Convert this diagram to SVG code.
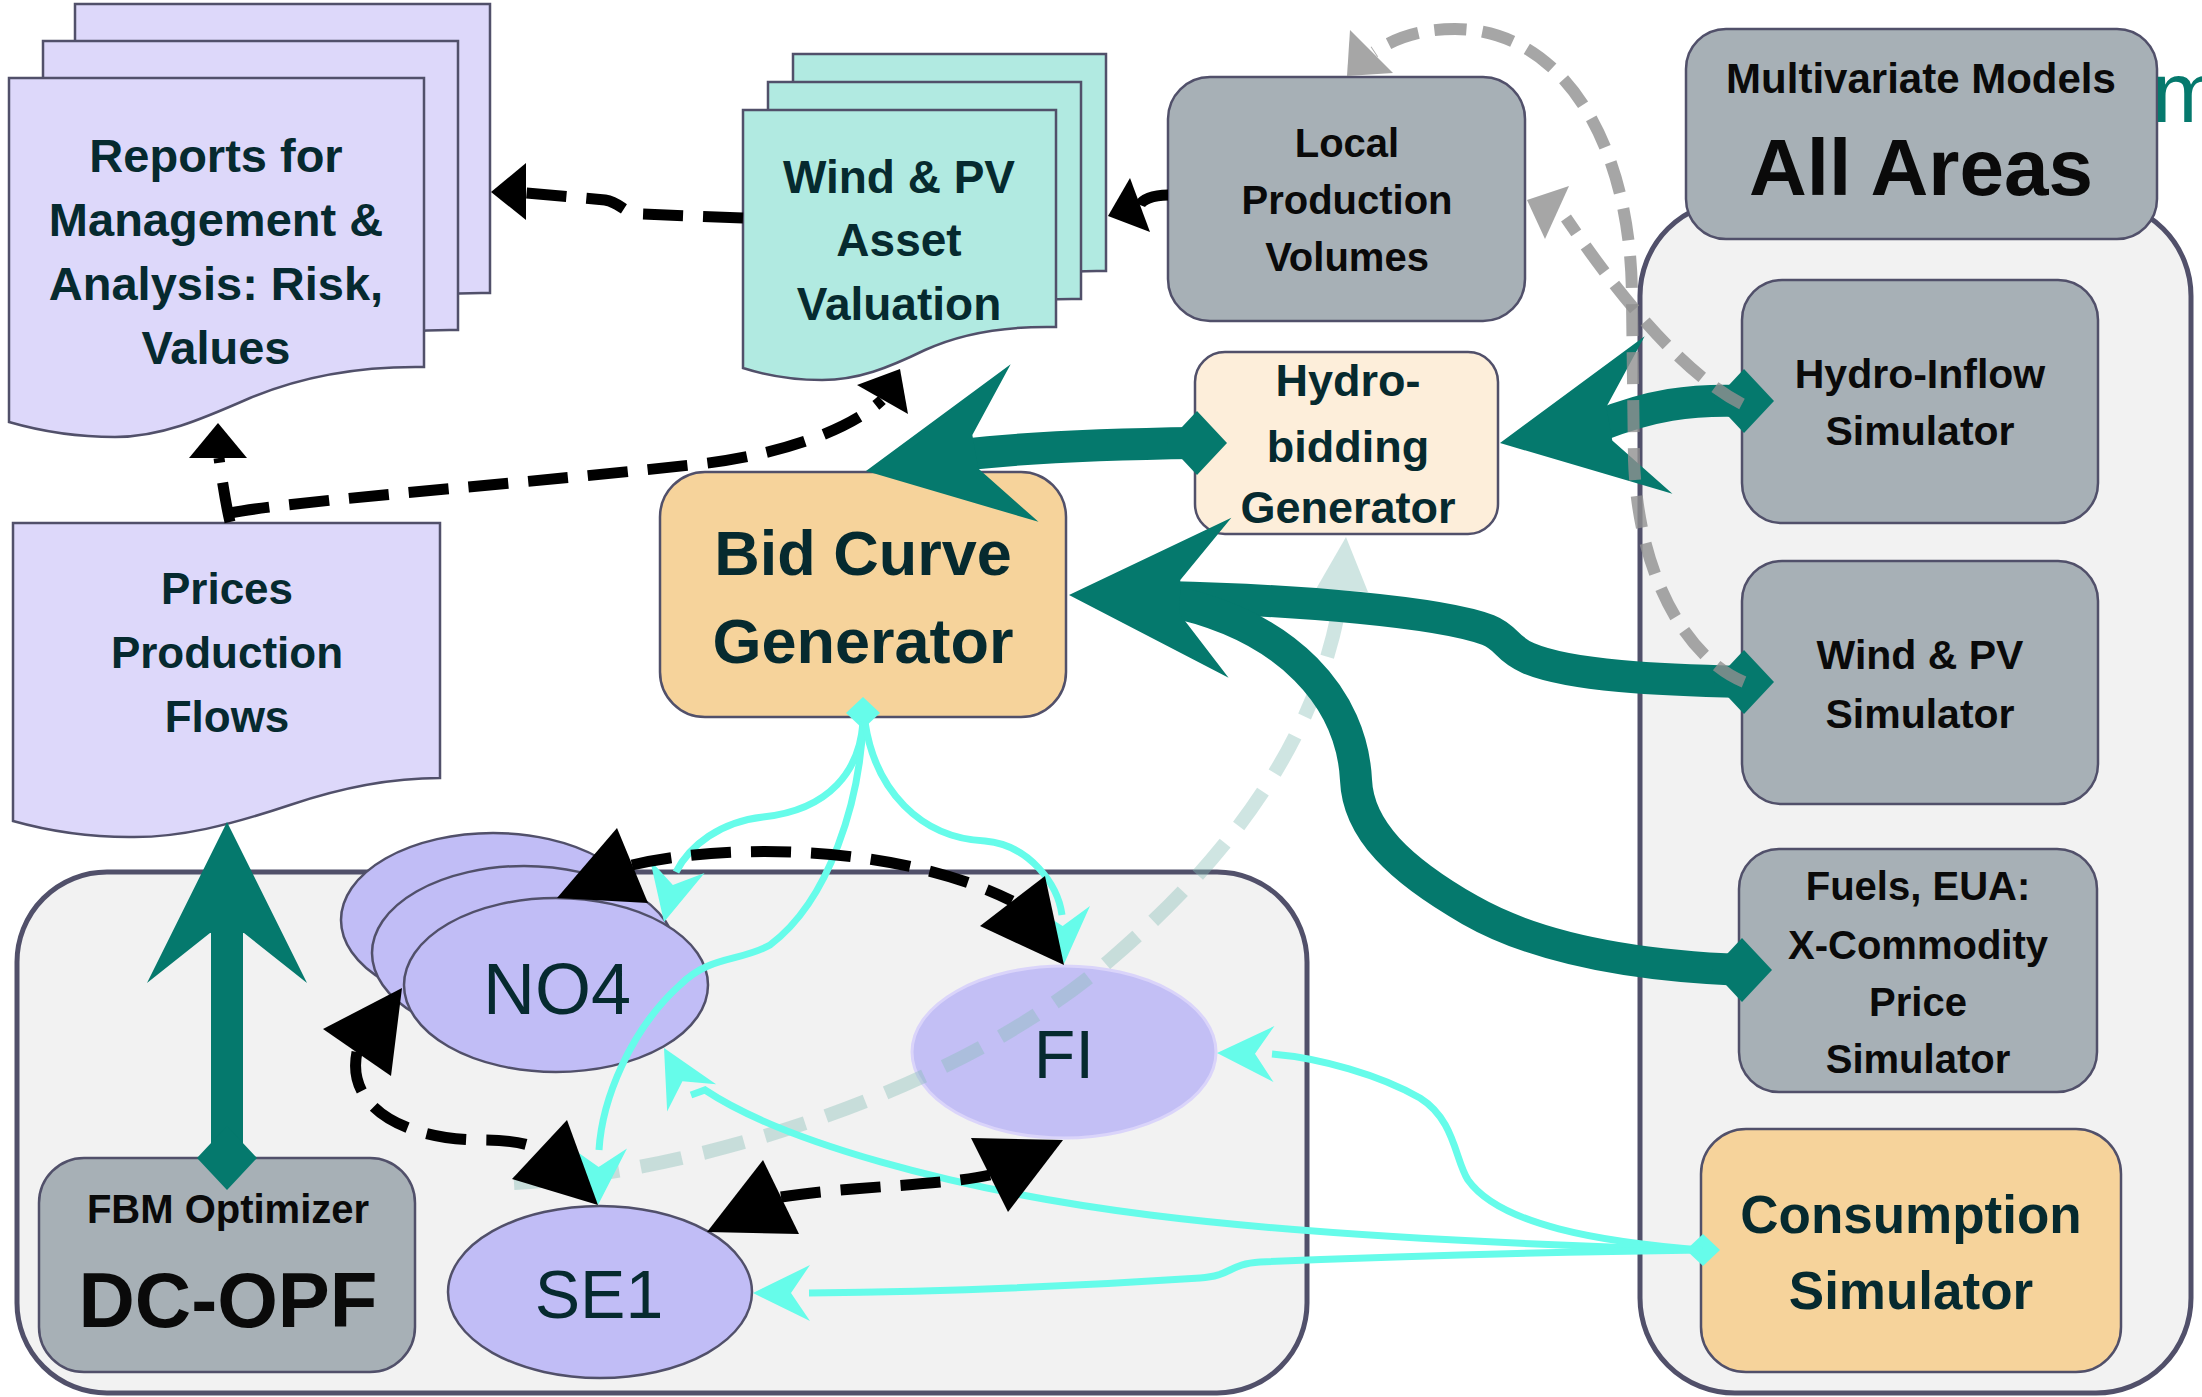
<svg xmlns="http://www.w3.org/2000/svg" xmlns:xlink="http://www.w3.org/1999/xlink" width="2202" height="1397" viewBox="0 0 2202 1397">
<style>
text{font-family:"Liberation Sans",Arial,sans-serif;text-anchor:middle;}
.b{font-weight:bold;}
.dk{fill:#062a2f;}
.bk{fill:#0a0a0a;}
.st{stroke:#51506a;stroke-width:2.5;}
.doc{fill:#ddd8fa;}
.asset{fill:#b1eae1;}
.gray{fill:#a7b0b6;}
.org{fill:#f6d39b;}
.cream{fill:#fdeeda;}
.ell{fill:#c1bdf6;}
.cont{fill:#f2f2f2;stroke:#51506a;stroke-width:5;}
.teal{fill:none;stroke:#05796d;stroke-width:32;}
.tealf{fill:#05796d;}
.grayd{fill:none;stroke:#909090;stroke-opacity:0.8;stroke-width:12;stroke-dasharray:32 16;}
.grayf{fill:#909090;fill-opacity:0.8;}
.faint{fill:none;stroke:#87beb6;stroke-opacity:0.4;stroke-width:14;stroke-dasharray:42 22;}
.faintf{fill:#87beb6;fill-opacity:0.4;}
.cy{fill:none;stroke:#66fcea;stroke-width:7;}
.cyf{fill:#66fcea;}
.bd{fill:none;stroke:#000;stroke-width:11;stroke-dasharray:40 20;}
.bs{fill:none;stroke:#000;stroke-width:11;}
.bf{fill:#000;}
</style>
<defs>
<path id="th" d="M0,0 L-161,-80 L-111,-17 L-111,17 L-161,80 Z"/>
<path id="td" d="M0,-32 L30,0 L0,32 L-30,0 Z"/>
<path id="ch" d="M0,0 L-57,-28 L-38,0 L-57,28 Z"/>
<path id="cd" d="M0,-16 L17,0 L0,16 L-17,0 Z"/>
<path id="repdoc" d="M9,78 H424 V367 C360,366 300,377 250,398 C200,420 160,437 115,437 C75,437 40,431 9,422 Z"/>
<path id="assetdoc" d="M743,110 H1056 V327 C1008,326 962,333 925,350 C888,368 858,380 822,380 C792,380 765,375 743,368 Z"/>
<ellipse id="no4e" cx="556" cy="985" rx="152" ry="87"/>
</defs>

<g id="containers">
<rect id="multivariate-container" class="cont" x="1640" y="201" width="551" height="1192" rx="95"/>
<rect id="fbm-container" class="cont" x="17" y="872" width="1290" height="521" rx="90"/>
</g>

<g id="reports">
<use xlink:href="#repdoc" class="doc st" transform="translate(66,-74)"/>
<use xlink:href="#repdoc" class="doc st" transform="translate(34,-37)"/>
<use xlink:href="#repdoc" class="doc st"/>
<text class="b dk" font-size="47"><tspan x="216" y="172">Reports for</tspan><tspan x="216" y="236">Management &amp;</tspan><tspan x="216" y="300">Analysis: Risk,</tspan><tspan x="216" y="364">Values</tspan></text>
</g>

<g id="asset-valuation">
<use xlink:href="#assetdoc" class="asset st" transform="translate(50,-56)"/>
<use xlink:href="#assetdoc" class="asset st" transform="translate(25,-28)"/>
<use xlink:href="#assetdoc" class="asset st"/>
<text class="b dk" font-size="46"><tspan x="899" y="193">Wind &amp; PV</tspan><tspan x="899" y="256">Asset</tspan><tspan x="899" y="320">Valuation</tspan></text>
</g>

<g id="local-production">
<rect class="gray st" x="1168" y="77" width="357" height="244" rx="42"/>
<text class="b bk" font-size="40"><tspan x="1347" y="157">Local</tspan><tspan x="1347" y="214">Production</tspan><tspan x="1347" y="271">Volumes</tspan></text>
</g>

<g id="hydro-bidding">
<rect class="cream st" x="1195" y="352" width="303" height="182" rx="30"/>
<text class="b dk" font-size="45"><tspan x="1348" y="396">Hydro-</tspan><tspan x="1348" y="462">bidding</tspan><tspan x="1348" y="523">Generator</tspan></text>
</g>

<g id="bid-curve">
<rect class="org st" x="660" y="472" width="406" height="245" rx="45"/>
<text class="b dk" font-size="63"><tspan x="863" y="575">Bid Curve</tspan><tspan x="863" y="663">Generator</tspan></text>
</g>

<g id="prices">
<path class="doc st" d="M13,523 H440 V778 C390,778 340,788 290,805 C230,825 180,838 129,837 C85,837 45,830 13,821 Z"/>
<text class="b dk" font-size="44"><tspan x="227" y="604">Prices</tspan><tspan x="227" y="668">Production</tspan><tspan x="227" y="732">Flows</tspan></text>
</g>

<g id="multivariate">
<rect class="gray st" x="1686" y="29" width="471" height="210" rx="40"/>
<text class="b bk" font-size="42" x="1921" y="93">Multivariate Models</text>
<text class="b bk" font-size="80" x="1921" y="195">All Areas</text>
</g>

<g id="hydro-inflow">
<rect class="gray st" x="1742" y="280" width="356" height="243" rx="40"/>
<text class="b bk" font-size="41"><tspan x="1920" y="388">Hydro-Inflow</tspan><tspan x="1920" y="445">Simulator</tspan></text>
</g>

<g id="wind-pv-sim">
<rect class="gray st" x="1742" y="561" width="356" height="243" rx="40"/>
<text class="b bk" font-size="41"><tspan x="1920" y="669">Wind &amp; PV</tspan><tspan x="1920" y="728">Simulator</tspan></text>
</g>

<g id="fuels">
<rect class="gray st" x="1739" y="849" width="358" height="243" rx="40"/>
<text class="b bk" font-size="40"><tspan x="1918" y="900">Fuels, EUA:</tspan><tspan x="1918" y="959">X-Commodity</tspan><tspan x="1918" y="1016">Price</tspan><tspan x="1918" y="1073">Simulator</tspan></text>
</g>

<g id="consumption">
<rect class="org st" x="1701" y="1129" width="420" height="243" rx="45"/>
<text class="b dk" font-size="53"><tspan x="1911" y="1233">Consumption</tspan><tspan x="1911" y="1309">Simulator</tspan></text>
</g>

<g id="fbm">
<rect class="gray st" x="39" y="1158" width="376" height="214" rx="45"/>
<text class="b bk" font-size="40" x="228" y="1223">FBM Optimizer</text>
<text class="b bk" font-size="78" x="228" y="1327">DC-OPF</text>
</g>

<g id="no4">
<use xlink:href="#no4e" class="ell st" transform="translate(-63,-65)"/>
<use xlink:href="#no4e" class="ell st" transform="translate(-32,-32)"/>
<use xlink:href="#no4e" class="ell st"/>
<text class="dk" font-size="72" x="557" y="1014">NO4</text>
</g>

<g id="se1">
<ellipse class="ell st" cx="600" cy="1292" rx="152" ry="86"/>
<text class="dk" font-size="68" x="599" y="1318">SE1</text>
</g>

<g id="fi">
<ellipse class="ell" cx="1064" cy="1052" rx="152" ry="86" stroke="#d9d3fb" stroke-width="3" opacity="0.95"/>
<text class="dk" font-size="68" x="1064" y="1078">FI</text>
</g>

<g id="logo-fragment">
<text font-size="86" fill="#05796d" x="2152" y="122" style="text-anchor:start">m</text>
</g>

<g id="connectors">
<path class="faint" d="M514,1183 C700,1172 960,1090 1110,960 C1250,840 1322,720 1342,592"/>
<polygon class="faintf" points="1346,537 1316,589 1368,592"/>

<path class="teal" d="M1197,443 C1110,444 1030,447 960,455"/>
<use xlink:href="#th" class="tealf" transform="translate(866,471) rotate(170)"/>
<use xlink:href="#td" class="tealf" transform="translate(1197,443)"/>

<path class="teal" d="M1744,401 C1690,399 1650,405 1598,426"/>
<use xlink:href="#th" class="tealf" transform="translate(1500,443) rotate(170)"/>
<use xlink:href="#td" class="tealf" transform="translate(1744,401)"/>

<path class="teal" d="M1744,682 C1660,680 1570,676 1528,658 C1505,648 1508,638 1488,630 C1440,612 1300,600 1165,597"/>
<path class="teal" d="M1742,970 C1640,966 1540,950 1470,910 C1400,870 1358,830 1356,780 C1352,700 1290,625 1165,600"/>
<use xlink:href="#th" class="tealf" transform="translate(1069,595) rotate(181)"/>
<use xlink:href="#td" class="tealf" transform="translate(1744,682)"/>
<use xlink:href="#td" class="tealf" transform="translate(1742,970)"/>

<path class="teal" d="M227,1158 L227,920"/>
<use xlink:href="#th" class="tealf" transform="translate(227,822) rotate(-90)"/>
<use xlink:href="#td" class="tealf" transform="translate(227,1158)"/>

<path class="grayd" d="M1742,404 C1680,372 1615,290 1566,218"/>
<polygon class="grayf" points="1527,200 1569,186 1545,239"/>
<path class="grayd" d="M1744,682 C1690,660 1638,580 1634,460 L1632,300 C1632,140 1560,29 1455,29 C1420,29 1395,38 1374,52"/>
<polygon class="grayf" points="1347,76 1350,30 1393,73"/>

<use xlink:href="#cd" class="cyf" transform="translate(863,713)"/>
<path class="cy" d="M863,722 C860,770 830,810 763,817 C720,822 690,845 676,872"/>
<use xlink:href="#ch" class="cyf" transform="translate(664,922) rotate(103.5)"/>
<path class="cy" d="M863,722 C860,800 830,900 770,945 C740,962 710,955 680,985 C630,1030 602,1100 599,1150"/>
<use xlink:href="#ch" class="cyf" transform="translate(598,1205) rotate(91)"/>
<path class="cy" d="M865,722 C875,790 920,838 985,841 C1030,845 1058,885 1062,915"/>
<use xlink:href="#ch" class="cyf" transform="translate(1064,964) rotate(88)"/>

<use xlink:href="#cd" class="cyf" transform="translate(1703,1250)"/>
<path class="cy" d="M1702,1250 C1600,1242 1500,1225 1468,1180 C1455,1160 1455,1120 1420,1098 C1380,1075 1320,1058 1272,1054"/>
<use xlink:href="#ch" class="cyf" transform="translate(1217,1053) rotate(181)"/>
<path class="cy" d="M1702,1250 C1500,1244 1300,1234 1150,1215 C950,1190 780,1140 705,1090 L691,1095"/>
<use xlink:href="#ch" class="cyf" transform="translate(664,1048) rotate(241)"/>
<path class="cy" d="M1702,1250 C1550,1252 1400,1256 1260,1262 C1228,1264 1232,1276 1200,1278 C1050,1288 900,1292 809,1293"/>
<use xlink:href="#ch" class="cyf" transform="translate(753,1293) rotate(180)"/>

<path class="bd" d="M743,218 L640,214 C622,213 622,203 605,200 L526,193"/>
<polygon class="bf" points="491,192 526,163 526,220"/>
<path class="bd" d="M230,522 C226,505 222,480 219,458"/>
<polygon class="bf" points="218,423 189,458 247,458"/>
<path class="bd" d="M230,513 C300,500 500,486 700,464 C780,455 850,430 882,400"/>
<polygon class="bf" points="900,369 857,385 908,414"/>
<path class="bs" d="M1168,195 C1152,195 1142,200 1140,205"/>
<polygon class="bf" points="1108,216 1130,178 1150,232"/>

<path class="bd" d="M632,865 C730,842 900,845 1012,901"/>
<polygon class="bf" points="557,898 617,828 648,903"/>
<polygon class="bf" points="1064,965 1045,876 980,926"/>
<path class="bd" d="M357,1052 C345,1110 410,1140 480,1140 C510,1140 528,1143 540,1150"/>
<polygon class="bf" points="402,988 323,1029 391,1076"/>
<polygon class="bf" points="598,1205 567,1120 512,1179"/>
<path class="bd" d="M781,1197 C850,1186 940,1186 990,1175"/>
<polygon class="bf" points="1063,1140 971,1138 1008,1212"/>
<polygon class="bf" points="707,1232 763,1160 799,1234"/>
</g>
</svg>
